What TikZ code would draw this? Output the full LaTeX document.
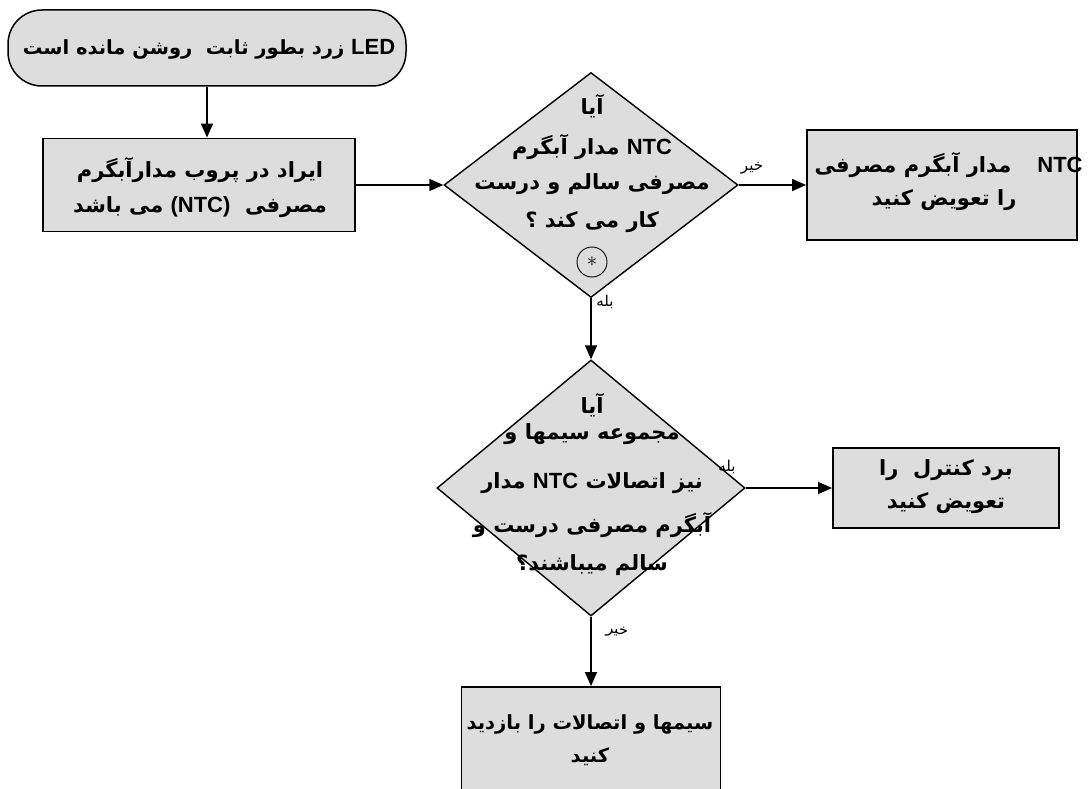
\documentclass[tikz,border=0pt]{standalone}
\usepackage{fontspec}
\TeXXeTstate=1
\newfontfamily\fa[Script=Arabic]{DejaVu Sans}
\newfontfamily\lat{Liberation Sans}
\usetikzlibrary{arrows.meta,shapes.geometric}
\definecolor{boxgray}{RGB}{221,221,221}
% a right-to-left run, and a left-to-right Latin word inside it
\newcommand\faline[1]{\beginR #1\endR}
\newcommand\latword[1]{\beginL{\lat\fontsize{22}{24}\selectfont #1}\endL}
\tikzset{
  box/.style={draw=black, line width=1.8pt, fill=boxgray, inner sep=0pt},
  decision/.style={diamond, draw=black, line width=1.4pt, fill=boxgray, inner sep=0pt},
  flow/.style={draw=black, line width=1.4pt, -{Triangle[length=14pt,width=12pt]}},
  txt/.style={font=\fa\bfseries\fontsize{21}{24}\selectfont, inner sep=0pt},
  smalltxt/.style={font=\fa\bfseries\fontsize{19.5}{24}\selectfont, inner sep=0pt},
  lbl/.style={font=\fa\fontsize{15}{17}\selectfont, inner sep=0pt},
}
\begin{document}
\begin{tikzpicture}[x=1pt, y=-1pt]
\fill[white] (0,0) rectangle (1090,789);
\clip (0,0) rectangle (1090,789);

% start terminal
\node[box, line width=1.5pt, rounded corners=34pt, minimum width=398pt, minimum height=76pt] (start) at (207,48) {};
\node[smalltxt] (startText) at (209,49) {\faline{\latword{LED} زرد بطور ثابت\ \ روشن مانده است}};

% fault box
\node[box, minimum width=312pt, minimum height=93pt] (probe) at (199,185) {};
\node[txt] (probeA) at (200,170) {\faline{ایراد در پروب مدارآبگرم}};
\node[txt] (probeB) at (200,207) {\faline{مصرفی\ \ \latword{(NTC)} می باشد}};

% first decision
\node[decision, minimum width=294pt, minimum height=225pt] (q1) at (591,185) {};
\node[txt] (q1a) at (592,106) {\faline{آیا}};
\node[txt] (q1b) at (592,147) {\faline{\latword{NTC} مدار آبگرم}};
\node[txt] (q1c) at (592,184) {\faline{مصرفی سالم و درست}};
\node[txt] (q1d) at (592,222) {\faline{کار می کند ؟}};
\node[draw=black, circle, line width=0.9pt, minimum size=30pt, inner sep=0pt] (q1mark) at (592,262) {\fontsize{20}{20}\selectfont$\ast$};

% replace-sensor box
\node[box, minimum width=270pt, minimum height=110pt] (swap) at (942,185) {};
\node[txt] (swapA) at (913,165) {\faline{مدار آبگرم مصرفی}};
\node[txt] (swapNTC) at (1060,165) {\latword{NTC}};
\node[txt] (swapB) at (944,200) {\faline{را تعویض کنید}};

% second decision
\node[decision, minimum width=308pt, minimum height=256pt] (q2) at (591,488) {};
\node[txt] (q2a) at (592,405) {\faline{آیا}};
\node[txt] (q2b) at (592,434) {\faline{مجموعه سیمها و}};
\node[txt] (q2c) at (592,483) {\faline{نیز اتصالات \latword{NTC} مدار}};
\node[txt] (q2d) at (592,525) {\faline{آبگرم مصرفی درست و}};
\node[txt] (q2e) at (592,565) {\faline{سالم میباشند؟}};

% replace-board box
\node[box, minimum width=226pt, minimum height=80pt] (board) at (946,488) {};
\node[txt] (boardA) at (946,470) {\faline{برد کنترل\ \ را}};
\node[txt] (boardB) at (946,503) {\faline{تعویض کنید}};

% inspect-wiring box
\node[box, minimum width=259pt, minimum height=120pt] (wires) at (591,747) {};
\node[smalltxt] (wiresA) at (590,724) {\faline{سیمها و اتصالات را بازدید}};
\node[smalltxt] (wiresB) at (590,757) {\faline{کنید}};

% connectors
\draw[flow] (start.south) -- (start.south |- probe.north);
\draw[flow] (probe.east) -- (q1.west);
\draw[flow] (q1.east) -- (swap.west);
\draw[flow] (q1.south) -- (q2.north);
\draw[flow] (q2.east) -- (board.west);
\draw[flow] (q2.south) -- (wires.north);

% branch labels
\node[lbl] (noA) at (752,168) {\faline{خیر}};
\node[lbl] (yesA) at (605,302) {\faline{بله}};
\node[lbl] (yesB) at (727,467) {\faline{بله}};
\node[lbl, rotate=-8] (noB) at (617,632) {\faline{خیر}};
\end{tikzpicture}
\end{document}
